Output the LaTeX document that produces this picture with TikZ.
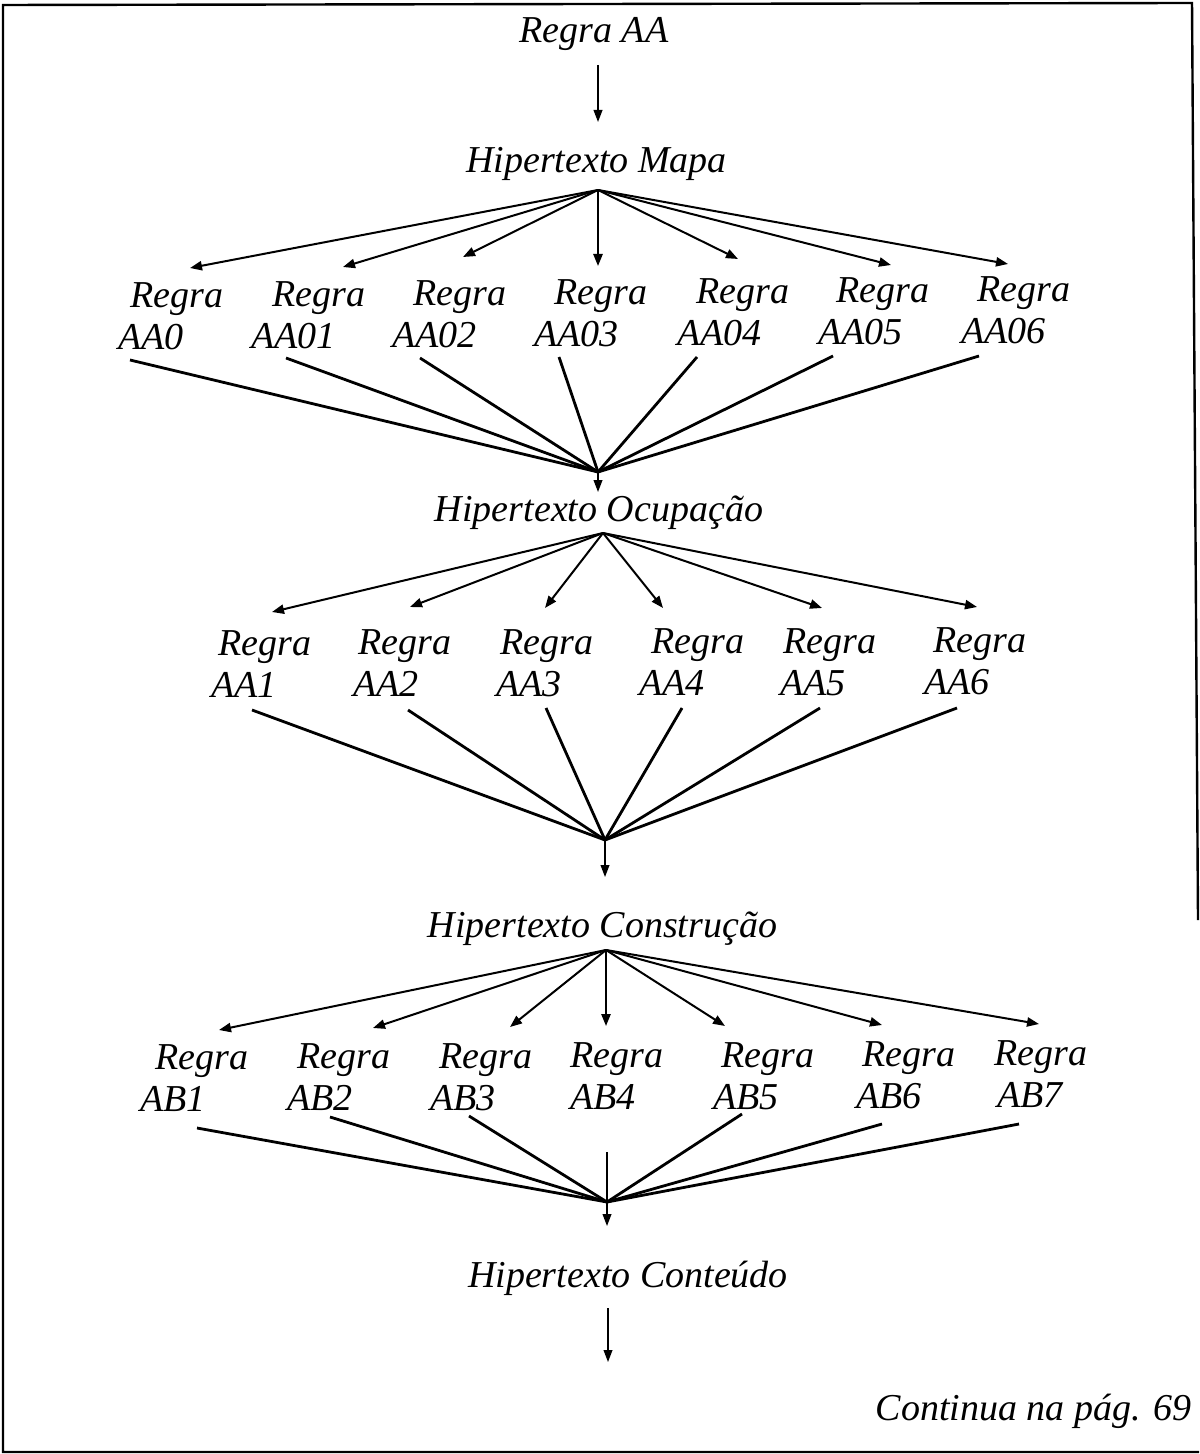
\documentclass[tikz,border=0pt]{standalone}
\usepackage{fontspec}
\setmainfont{Liberation Serif}
\usetikzlibrary{arrows.meta}
\begin{document}
\begin{tikzpicture}[x=0.5pt,y=-0.5pt,
  txt/.style={inner sep=0pt,font=\fontsize{19}{21}\selectfont\itshape},
  rule/.style={txt,align=left,anchor=south west},
  fan/.style={line width=1pt,-{Triangle[length=6pt,width=4.6pt]}},
  down/.style={line width=0.7pt,-{Triangle[length=6pt,width=4.4pt]}},
  merge/.style={line width=1.4pt},
  frame/.style={line width=1.2pt}]
\useasboundingbox (0,0) rectangle (1199,1454);

% outer frame
\draw[frame] (1199,1452) -- (3,1452) -- (3,5) -- (1192,3) -- (1198,920);

% main chain of hypertexts
\node[txt,anchor=base] (ra)   at (594,43)    {Regra AA};
\node[txt,anchor=base] (mapa) at (596.5,173) {Hipertexto Mapa};
\node[txt,anchor=base] (ocup) at (599,521)   {Hipertexto Ocupação};
\node[txt,anchor=base] (cons) at (602.5,937) {Hipertexto Construção};
\node[txt,anchor=base] (cont) at (628,1287)  {Hipertexto Conteúdo};
\node[txt,anchor=base east] (cont69) at (1192,1420) {Continua na pág. 69};

\draw[down] ([shift={(4,22)}]ra.base) -- ([shift={(4,79)}]ra.base);

% fan-out points and merge points
\coordinate (hubA) at ([shift={(1.5,17)}]mapa.base);
\coordinate (hubB) at ([shift={(4,12)}]ocup.base);
\coordinate (hubC) at ([shift={(3.5,13)}]cons.base);
\coordinate (mergeA) at ([shift={(-1,-49)}]ocup.base);
\coordinate (mergeB) at ([shift={(2.5,-97)}]cons.base);
\coordinate (mergeC) at ([shift={(-21,-85)}]cont.base);

% first row of rules
\node[rule] (a0)  at (118,350) {\hspace*{6pt}Regra\\AA0};
\node[rule] (a1)  at (251,349) {\hspace*{10.5pt}Regra\\AA01};
\node[rule] (a2)  at (392,348) {\hspace*{10.5pt}Regra\\AA02};
\node[rule] (a3)  at (534,347) {\hspace*{10pt}Regra\\AA03};
\node[rule] (a4)  at (677,346) {\hspace*{9.5pt}Regra\\AA04};
\node[rule] (a5)  at (818,345) {\hspace*{9pt}Regra\\AA05};
\node[rule] (a6)  at (961,344) {\hspace*{8pt}Regra\\AA06};

\foreach \n/\tx/\ty/\sx/\sy in {a0/72/-82/12/10, a1/92/-82/35/9, a2/71/-91/28/10,
    a3/64/-81/25/10, a4/61/-87/20/11, a5/73/-80/15/11, a6/47/-80/18/12}{
  \draw[fan] (hubA) -- ([shift={(\tx,\ty)}]\n.south west);
  \draw[merge] ([shift={(\sx,\sy)}]\n.south west) -- (mergeA);
}
\draw[down] (mergeA) -- ([shift={(-1,-29)}]ocup.base);

% second row of rules
\node[rule] (b1) at (211,698) {\hspace*{3.5pt}Regra\\AA1};
\node[rule] (b2) at (353,697) {\hspace*{2.5pt}Regra\\AA2};
\node[rule] (b3) at (496,697) {\hspace*{2pt}Regra\\AA3};
\node[rule] (b4) at (639,696) {\hspace*{6pt}Regra\\AA4};
\node[rule] (b5) at (780,696) {\hspace*{1.5pt}Regra\\AA5};
\node[rule] (b6) at (924,695) {\hspace*{4.5pt}Regra\\AA6};

\foreach \n/\tx/\ty/\sx/\sy in {b1/61/-86/41/12, b2/57/-90/55/13, b3/49/-89/50/11,
    b4/24/-88/43/12, b5/42/-88/40/12, b6/53/-88/33/13}{
  \draw[fan] (hubB) -- ([shift={(\tx,\ty)}]\n.south west);
  \draw[merge] ([shift={(\sx,\sy)}]\n.south west) -- (mergeB);
}
\draw[down] (mergeB) -- ([shift={(2.5,-60)}]cons.base);

% third row of rules
\node[rule] (c1) at (140,1112) {\hspace*{7.5pt}Regra\\AB1};
\node[rule] (c2) at (287,1111) {\hspace*{5pt}Regra\\AB2};
\node[rule] (c3) at (430,1111) {\hspace*{4.5pt}Regra\\AB3};
\node[rule] (c4) at (570,1110) {Regra\\AB4};
\node[rule] (c5) at (713,1110) {\hspace*{4pt}Regra\\AB5};
\node[rule] (c6) at (856,1109) {\hspace*{3pt}Regra\\AB6};
\node[rule] (c7) at (997,1108) {\hspace*{-1.5pt}Regra\\AB7};

\foreach \n/\tx/\ty in {c1/79/-82, c2/86/-83, c3/80/-84, c4/36/-84,
    c5/12/-84, c6/26/-84, c7/42/-84}{
  \draw[fan] (hubC) -- ([shift={(\tx,\ty)}]\n.south west);
}
\foreach \n/\sx/\sy in {c1/57/16, c2/43/6, c3/39/5, c5/29/4, c6/26/15, c7/22/16}{
  \draw[merge] ([shift={(\sx,\sy)}]\n.south west) -- (mergeC);
}
\draw[down] ([shift={(-21,-135)}]cont.base) -- ([shift={(-21,-61)}]cont.base);

% continuation below the last hypertext
\draw[down] ([shift={(-20,21)}]cont.base) -- ([shift={(-20,75)}]cont.base);
\end{tikzpicture}
\end{document}
